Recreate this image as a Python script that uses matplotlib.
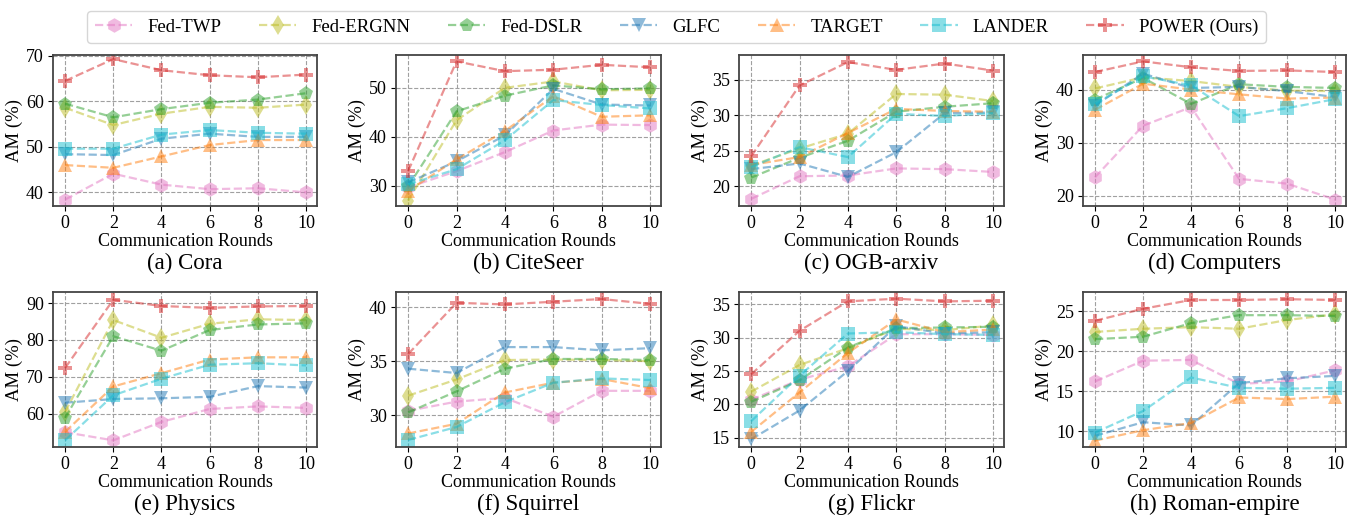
import numpy as np
import matplotlib
matplotlib.use("Agg")
import matplotlib.pyplot as plt

plt.rcParams['font.family'] = ['Liberation Serif', 'DejaVu Serif']

rounds = [0, 2, 4, 6, 8, 10]
methods = ["Fed-TWP", "Fed-ERGNN", "Fed-DSLR", "GLFC", "TARGET", "LANDER", "POWER (Ours)"]
colors = ["tab:pink", "tab:olive", "tab:green", "tab:blue", "tab:orange", "tab:cyan", "tab:red"]
markers = ["h", "d", "p", "v", "^", "s", "P"]

captions = ["(a) Cora", "(b) CiteSeer", "(c) OGB-arxiv", "(d) Computers",
            "(e) Physics", "(f) Squirrel", "(g) Flickr", "(h) Roman-empire"]

# AM (%) per dataset, rows follow `methods`
cora = [
    [38.4, 44.1, 41.7, 40.7, 40.9, 40.0],
    [58.6, 54.8, 57.3, 58.8, 58.6, 59.3],
    [59.5, 56.5, 58.3, 59.7, 60.4, 61.8],
    [48.4, 48.2, 51.8, 52.9, 52.2, 52.2],
    [46.0, 45.4, 47.9, 50.4, 51.5, 51.5],
    [49.6, 49.6, 52.7, 53.7, 53.1, 52.9],
    [64.5, 69.3, 66.85, 65.75, 65.3, 65.9],
]
citeseer = [
    [29.7, 33.0, 36.9, 41.3, 42.5, 42.4],
    [27.0, 43.4, 50.0, 51.3, 49.5, 49.6],
    [29.9, 45.2, 48.4, 50.5, 49.7, 49.9],
    [30.7, 35.0, 40.3, 49.8, 46.6, 46.4],
    [29.0, 35.4, 41.2, 48.3, 44.1, 44.4],
    [30.3, 33.4, 39.3, 47.5, 46.5, 45.8],
    [33.0, 55.4, 53.4, 53.7, 54.7, 54.2],
]
arxiv = [
    [18.2, 21.4, 21.5, 22.5, 22.4, 22.0],
    [22.9, 25.3, 27.4, 33.0, 32.9, 32.0],
    [21.2, 24.0, 26.4, 30.5, 31.2, 31.7],
    [22.4, 23.2, 21.3, 24.8, 30.3, 30.4],
    [23.0, 24.1, 27.5, 30.9, 30.6, 30.5],
    [22.7, 25.5, 24.1, 30.2, 29.9, 30.3],
    [24.2, 34.2, 37.5, 36.4, 37.3, 36.3],
]
computers = [
    [23.5, 33.2, 36.7, 23.2, 22.3, 19.3],
    [40.2, 42.3, 41.6, 40.5, 39.8, 39.7],
    [38.1, 42.2, 37.3, 41.0, 40.5, 40.3],
    [37.0, 43.0, 40.3, 40.5, 39.7, 38.6],
    [36.2, 41.1, 40.0, 39.1, 38.3, 38.5],
    [37.3, 42.5, 40.8, 35.0, 36.5, 38.2],
    [43.3, 45.3, 44.2, 43.5, 43.6, 43.3],
]
physics = [
    [55.0, 52.8, 57.8, 61.3, 62.0, 61.6],
    [60.5, 85.4, 80.6, 84.4, 85.6, 85.4],
    [58.9, 81.0, 77.1, 82.7, 84.2, 84.5],
    [63.0, 64.0, 64.2, 64.6, 67.5, 67.1],
    [55.1, 67.4, 71.0, 74.7, 75.3, 75.3],
    [52.8, 65.0, 69.5, 73.3, 73.7, 73.1],
    [72.4, 90.9, 89.2, 88.7, 89.1, 89.2],
]
squirrel = [
    [30.4, 31.25, 31.6, 29.85, 32.25, 32.25],
    [31.8, 33.3, 35.1, 35.15, 35.1, 35.0],
    [30.25, 32.2, 34.3, 35.2, 35.2, 35.1],
    [34.3, 33.9, 36.3, 36.3, 36.0, 36.2],
    [28.3, 29.2, 32.1, 33.0, 33.35, 32.5],
    [27.7, 28.9, 31.2, 33.0, 33.4, 33.25],
    [35.65, 40.4, 40.25, 40.5, 40.75, 40.3],
]
flickr = [
    [20.7, 23.7, 25.7, 30.5, 30.5, 30.4],
    [21.9, 25.9, 28.4, 31.3, 31.1, 31.8],
    [20.4, 23.6, 28.5, 31.4, 31.5, 31.6],
    [14.8, 19.1, 25.0, 31.7, 30.6, 30.8],
    [15.9, 21.8, 27.7, 32.7, 30.8, 31.2],
    [17.5, 24.3, 30.6, 30.8, 30.5, 30.4],
    [24.5, 31.0, 35.4, 35.8, 35.4, 35.5],
]
roman = [
    [16.2, 18.8, 18.9, 15.9, 16.2, 17.6],
    [22.4, 22.8, 23.0, 22.8, 23.9, 24.6],
    [21.5, 21.8, 23.5, 24.5, 24.5, 24.4],
    [9.4, 11.1, 10.7, 16.0, 16.6, 16.9],
    [8.8, 10.1, 11.0, 14.2, 14.0, 14.3],
    [9.8, 12.5, 16.7, 15.4, 15.3, 15.4],
    [23.8, 25.3, 26.4, 26.4, 26.5, 26.4],
]
datasets = [cora, citeseer, arxiv, computers, physics, squirrel, flickr, roman]

y_limits = [(37.0, 70.2), (25.9, 56.7), (17.2, 38.5), (18.1, 46.5),
            (51.0, 93.0), (27.05, 41.4), (13.65, 36.8), (8.0, 27.4)]
y_ticks = [[40, 50, 60, 70], [30, 40, 50], [20, 25, 30, 35], [20, 30, 40],
           [60, 70, 80, 90], [30, 35, 40], [15, 20, 25, 30, 35], [10, 15, 20, 25]]

W, H = 1353, 519
fig = plt.figure(figsize=(W / 100, H / 100), dpi=100)

# axes boxes in pixels: (left, right) per column, (top, bottom) per row
cols = [(53, 317), (396, 661), (739, 1004), (1083, 1346)]
rows = [(55, 206), (292, 447)]

lines = []
for i, data in enumerate(datasets):
    r, c = divmod(i, 4)
    l, rr = cols[c]
    t, b = rows[r]
    ax = fig.add_axes([l / W, 1 - b / H, (rr - l) / W, (b - t) / H])
    for j, name in enumerate(methods):
        ln, = ax.plot(rounds, data[j], linestyle='--', marker=markers[j], color=colors[j],
                      alpha=0.5, markersize=10.5, markeredgewidth=0, linewidth=1.6, label=name)
        if i == 0:
            lines.append(ln)
    ax.set_xlim(-0.5, 10.45)
    ax.set_ylim(*y_limits[i])
    ax.set_xticks(rounds)
    ax.set_yticks(y_ticks[i])
    ax.tick_params(labelsize=13, pad=3)
    ax.grid(True, linestyle='--', color='#a0a0a0', linewidth=0.8)
    ax.set_axisbelow(True)
    for s in ax.spines.values():
        s.set_linewidth(1.3)
        s.set_color('#444444')
    ax.set_xlabel("Communication Rounds", fontsize=13, labelpad=1)
    ax.set_ylabel("AM (%)", fontsize=13.5, labelpad=2)
    ax.text(0.5, -(57 / (b - t)), captions[i], transform=ax.transAxes,
            ha='center', va='center', fontsize=16.5)

fig.legend(handles=lines, labels=methods, loc='upper center', ncol=7,
           bbox_to_anchor=(0.5, 0.997), fontsize=13.5, frameon=True,
           columnspacing=2.0, handletextpad=0.8, borderpad=0.4)

fig.savefig("out.png", dpi=100)
